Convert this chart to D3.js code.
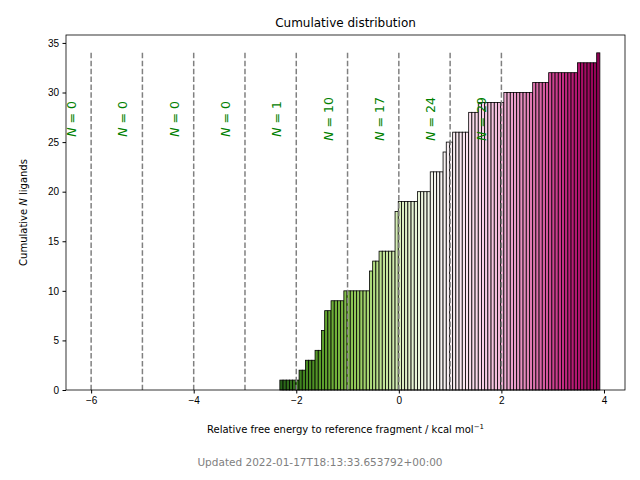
<!DOCTYPE html>
<html><head><meta charset="utf-8">
<script src="https://cdn.jsdelivr.net/npm/d3@7"></script>
<style>body{margin:0;background:#fff}svg{font-family:"DejaVu Sans",sans-serif}</style>
</head><body><svg id="c" width="640" height="480"></svg>
<script>
const ligandEnergies = [-2.32,-1.93,-1.81,-1.61,-1.5,-1.5,-1.44,-1.44,-1.3,-1.07,-0.56,-0.56,-0.5,-0.38,-0.07,-0.07,-0.07,-0.07,0.01,0.38,0.62,0.62,0.87,0.92,0.98,1.06,1.37,1.37,1.56,2.05,2.67,2.93,3.53,3.92];
const lineXs = [-6,-5,-4,-3,-2,-1,0,1,2];
const lineLabels = ["0","0","0","0","1","10","17","24","29"];
const xTicks = [-6,-4,-2,0,2,4];
const yTicks = [0,5,10,15,20,25,30,35];
const nBins = 100;

const svg = d3.select("#c");
const m = {l:66, r:625, t:35, b:390};
const x = d3.scaleLinear().domain([-6.49,4.41]).range([m.l,m.r]);
const y = d3.scaleLinear().domain([0,35.8]).range([m.b,m.t]);

const lo = d3.min(ligandEnergies), hi = d3.max(ligandEnergies);
const step = (hi-lo)/nBins;
const thresholds = d3.range(1,nBins).map(i=>lo+i*step);
const bins = d3.bin().domain([lo,hi+1e-9]).thresholds(thresholds)(ligandEnergies);
let cum = 0;
const bars = bins.map((b,i)=>{cum+=b.length;return {x0:lo+i*step,x1:lo+(i+1)*step,c:cum,t:i/(nBins-1)};});

svg.append("g").selectAll("rect").data(bars.filter(d=>d.c>0)).join("rect")
 .attr("x",d=>x(d.x0)).attr("width",d=>x(d.x1)-x(d.x0))
 .attr("y",d=>y(d.c)).attr("height",d=>y(0)-y(d.c))
 .attr("fill",d=>d3.interpolatePiYG(1-d.t)).attr("stroke","#000").attr("stroke-width",0.8);

svg.append("g").selectAll("line").data(lineXs).join("line")
 .attr("x1",d=>x(d)).attr("x2",d=>x(d)).attr("y1",y(34)).attr("y2",y(0))
 .attr("stroke","#808080").attr("stroke-width",1.5).attr("stroke-dasharray","5.5,2.4");

lineXs.forEach((v,i)=>{
 const t = svg.append("text").attr("transform",`translate(${x(v)-15},${119}) rotate(-90)`)
  .attr("text-anchor","middle").attr("fill","green").attr("font-size",12.5);
 t.append("tspan").attr("font-style","italic").text("N");
 t.append("tspan").text(" = "+lineLabels[i]);
});

svg.append("g").attr("transform",`translate(0,${m.b})`)
 .call(d3.axisBottom(x).tickValues(xTicks).tickSize(3.5).tickPadding(3.5).tickFormat(d=>d<0?"−"+Math.abs(d):d))
 .call(g=>g.selectAll("text").attr("font-size",10).attr("fill","#000"));
svg.append("g").attr("transform",`translate(${m.l},0)`)
 .call(d3.axisLeft(y).tickValues(yTicks).tickSize(3.5).tickPadding(3.5))
 .call(g=>g.selectAll("text").attr("font-size",10).attr("fill","#000"));
svg.selectAll(".domain").remove();
svg.append("rect").attr("x",m.l).attr("y",m.t).attr("width",m.r-m.l).attr("height",m.b-m.t)
 .attr("fill","none").attr("stroke","#000").attr("stroke-width",0.8);

svg.append("text").attr("x",(m.l+m.r)/2).attr("y",27).attr("text-anchor","middle").attr("font-size",12).text("Cumulative distribution");
const xl = svg.append("text").attr("x",(m.l+m.r)/2).attr("y",433).attr("text-anchor","middle").attr("font-size",10);
xl.append("tspan").text("Relative free energy to reference fragment / kcal mol");
xl.append("tspan").attr("dy",-4).attr("font-size",7).text("−1");
const yl = svg.append("text").attr("transform",`translate(27,${(m.t+m.b)/2}) rotate(-90)`).attr("text-anchor","middle").attr("font-size",10);
yl.append("tspan").text("Cumulative ");
yl.append("tspan").attr("font-style","italic").text("N");
yl.append("tspan").text(" ligands");
svg.append("text").attr("x",320).attr("y",466).attr("text-anchor","middle").attr("font-size",10.5).attr("fill","#808080").text("Updated 2022-01-17T18:13:33.653792+00:00");
</script></body></html>
